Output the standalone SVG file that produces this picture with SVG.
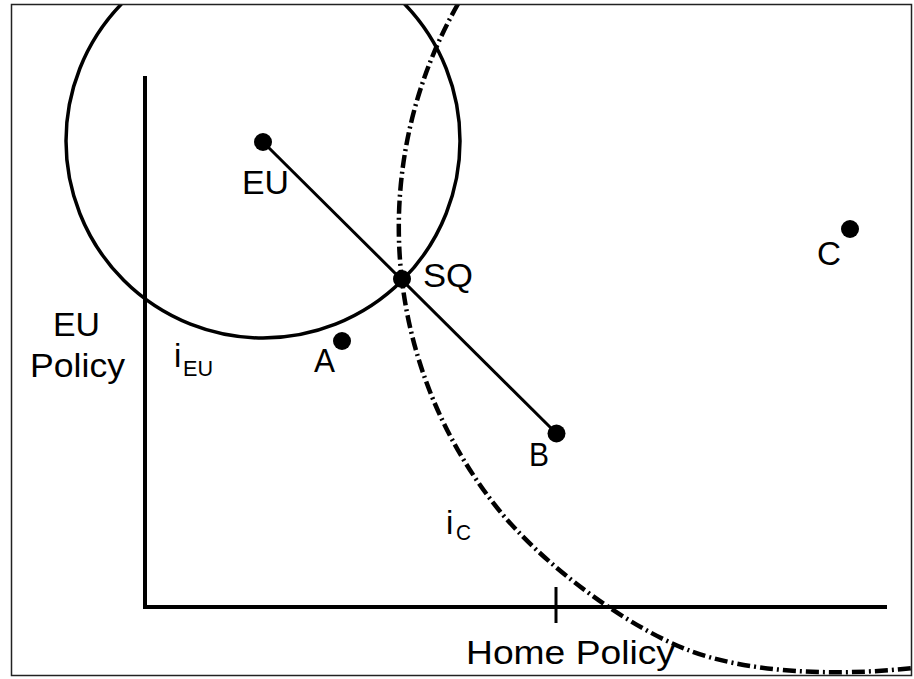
<svg xmlns="http://www.w3.org/2000/svg" width="914" height="679" viewBox="0 0 914 679">
<style>
.t{font-family:"Liberation Sans",Arial,sans-serif;font-size:33px;fill:#000}
.s{font-family:"Liberation Sans",Arial,sans-serif;font-size:22px;fill:#000}
.ln{stroke:#000;fill:none}
</style>
<defs>
<clipPath id="frame"><rect x="12" y="5" width="899" height="670"/></clipPath>
</defs>
<rect width="914" height="679" fill="#fff"/>
<g id="connectors" clip-path="url(#frame)">
<path id="axis-y" class="ln" stroke-width="4" d="M145,76 V609"/>
<path id="axis-x" class="ln" stroke-width="4" d="M143,607 H887"/>
<path id="tick" class="ln" stroke-width="3" d="M556,587 V623"/>
<circle id="iEU-curve" class="ln" stroke-width="3.5" cx="263" cy="141" r="197"/>
<path id="iC-curve" class="ln" stroke-width="4.5" stroke-dasharray="13 4 2 4" d="M458,4 A450,450 0 0 0 491,500 C540,565 630,628 688,650 C745,672 830,677 913,668"/>
<path id="eu-b" class="ln" stroke-width="3" d="M263,142 L556,433"/>
</g>
<g id="node-EU"><circle cx="263" cy="142" r="9"/><text class="t" x="242" y="194" textLength="47" lengthAdjust="spacingAndGlyphs">EU</text></g>
<g id="node-SQ"><circle cx="402" cy="279" r="9"/><text class="t" x="423" y="287" textLength="50" lengthAdjust="spacingAndGlyphs">SQ</text></g>
<g id="node-A"><circle cx="342" cy="341" r="9"/><text class="t" x="314" y="372" textLength="21" lengthAdjust="spacingAndGlyphs">A</text></g>
<g id="node-B"><circle cx="556.5" cy="433.5" r="9"/><text class="t" x="529" y="466" textLength="20" lengthAdjust="spacingAndGlyphs">B</text></g>
<g id="node-C"><circle cx="850" cy="229" r="9"/><text class="t" x="817" y="265" textLength="24" lengthAdjust="spacingAndGlyphs">C</text></g>
<g id="label-iEU"><text class="t" x="174" y="367">i</text><text class="s" x="183" y="376" textLength="30" lengthAdjust="spacingAndGlyphs">EU</text></g>
<g id="label-iC"><text class="t" x="446" y="534">i</text><text class="s" x="456" y="540" textLength="15" lengthAdjust="spacingAndGlyphs">C</text></g>
<g id="label-y"><text class="t" x="53" y="336" textLength="47" lengthAdjust="spacingAndGlyphs">EU</text><text class="t" x="30" y="377" textLength="95" lengthAdjust="spacingAndGlyphs">Policy</text></g>
<g id="label-x"><text class="t" x="466" y="664" textLength="209" lengthAdjust="spacingAndGlyphs">Home Policy</text></g>
<rect id="frame-border" x="11.5" y="4.5" width="900" height="671" fill="none" stroke="#222" stroke-width="1.5"/>
</svg>
